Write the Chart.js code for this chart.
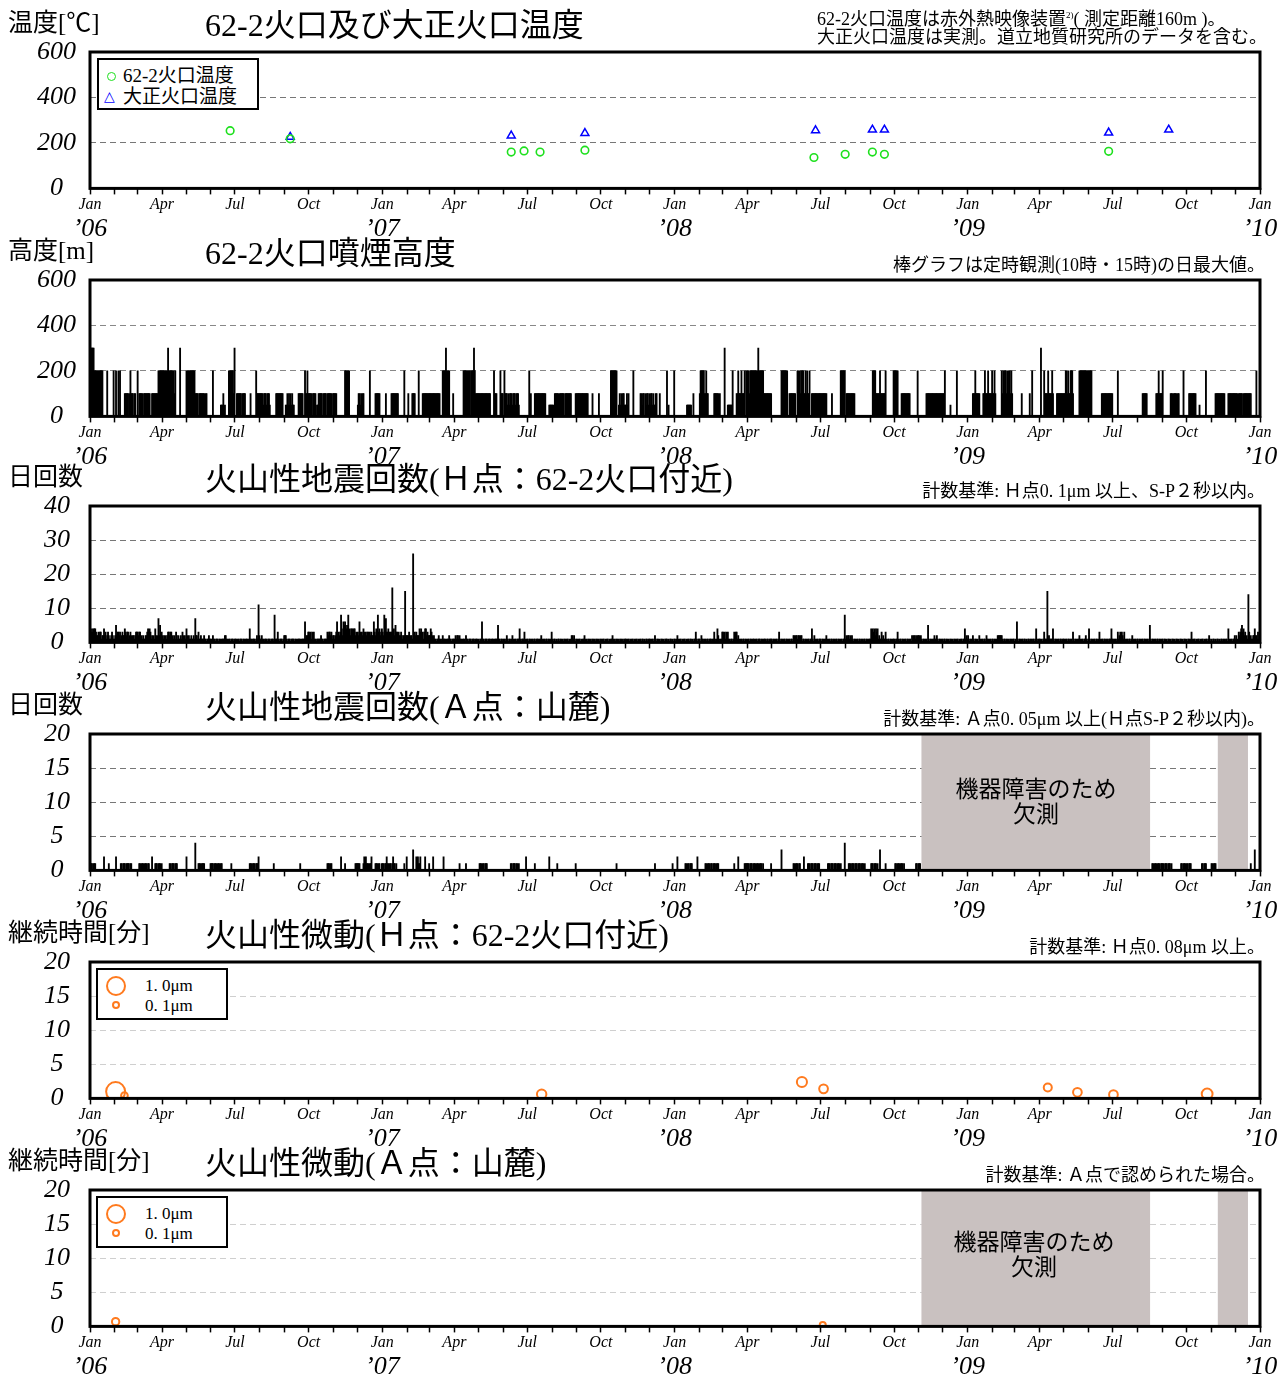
<!DOCTYPE html>
<html lang="ja">
<head>
<meta charset="utf-8">
<title>62-2火口 観測データ</title>
<script src="https://cdn.jsdelivr.net/npm/chart.js@4.4.1/dist/chart.umd.min.js"></script>
<style>
  body { margin: 0; background: #fff; }
  #page { position: relative; width: 1279px; height: 1376px; overflow: hidden; color: #000;
    font-family: "Liberation Serif", "Noto Sans CJK JP", serif; }
  .panel { position: absolute; left: 0; width: 1279px; height: 242px; }
  .panel canvas { position: absolute; left: 0; top: 0; }
  .ylab { position: absolute; left: 8px; top: 7px; font-size: 25px; line-height: 32px; white-space: nowrap; }
  .title { position: absolute; left: 205px; top: 6px; font-size: 32px; line-height: 38px; white-space: nowrap; }
  .note { position: absolute; right: 14px; top: 27px; font-size: 18px; line-height: 21px; white-space: nowrap; }
  .note sup { font-size: 9px; vertical-align: 7px; }
  .legend { position: absolute; border: 2px solid #000; background: #fff; box-sizing: border-box; }
  .legend .row { position: absolute; white-space: nowrap; }
  .mk { position: absolute; box-sizing: border-box; border-radius: 50%; }
  .tri { position: absolute; color: #0000ff; font-family: "DejaVu Sans", sans-serif; font-size: 14px; line-height: 14px; }
  .gap-text { position: absolute; width: 240px; margin-left: -120px; text-align: center;
    font-family: "Noto Sans CJK JP", sans-serif; font-size: 23px; line-height: 25px; }
</style>
</head>
<body>
<div id="page">
  <div class="panel" style="top:0px">
    <canvas id="c-temp" width="1279" height="242"></canvas>
    <div class="ylab">温度[℃]</div>
    <div class="title">62-2火口及び大正火口温度</div>
    <div class="note" style="left:817px; right:auto; top:5px; font-size:18px">62-2火口温度は赤外熱映像装置<sup>2)</sup>( 測定距離160m )。</div>
    <div class="note" style="left:817px; right:auto; top:27px; font-size:18px">大正火口温度は実測。道立地質研究所のデータを含む。</div>
    <div class="legend" style="left:97px; top:58px; width:162px; height:52px">
      <span class="mk" style="left:8px; top:12px; width:9px; height:9px; border:1.6px solid #1ee01e"></span>
      <div class="row" style="left:24px; top:3px; font-size:19px; line-height:26px">62-2火口温度</div>
      <span class="tri" style="left:5px; top:29px">△</span>
      <div class="row" style="left:24px; top:24px; font-size:19px; line-height:26px">大正火口温度</div>
    </div>
  </div>
  <div class="panel" style="top:228px">
    <canvas id="c-smoke" width="1279" height="242"></canvas>
    <div class="ylab">高度[m]</div>
    <div class="title">62-2火口噴煙高度</div>
    <div class="note">棒グラフは定時観測(10時・15時)の日最大値。</div>
  </div>
  <div class="panel" style="top:454px">
    <canvas id="c-quake-h" width="1279" height="242"></canvas>
    <div class="ylab">日回数</div>
    <div class="title">火山性地震回数(Ｈ点：62-2火口付近)</div>
    <div class="note">計数基準: Ｈ点0. 1μm 以上、S-P２秒以内。</div>
  </div>
  <div class="panel" style="top:682px">
    <canvas id="c-quake-a" width="1279" height="242"></canvas>
    <div class="ylab">日回数</div>
    <div class="title">火山性地震回数(Ａ点：山麓)</div>
    <div class="note">計数基準: Ａ点0. 05μm 以上(Ｈ点S-P２秒以内)。</div>
    <div class="gap-text" style="left:1036px; top:93px">機器障害のため<br>欠測</div>
  </div>
  <div class="panel" style="top:910px">
    <canvas id="c-tremor-h" width="1279" height="242"></canvas>
    <div class="ylab">継続時間[分]</div>
    <div class="title">火山性微動(Ｈ点：62-2火口付近)</div>
    <div class="note">計数基準: Ｈ点0. 08μm 以上。</div>
    <div class="legend" style="left:96px; top:58px; width:132px; height:52px">
      <span class="mk" style="left:8px; top:6px; width:20px; height:20px; border:2px solid #ff7a1e"></span>
      <div class="row" style="left:47px; top:4px; font-size:17px; line-height:24px">1. 0μm</div>
      <span class="mk" style="left:14px; top:31px; width:8px; height:8px; border:2px solid #ff7a1e"></span>
      <div class="row" style="left:47px; top:24px; font-size:17px; line-height:24px">0. 1μm</div>
    </div>
  </div>
  <div class="panel" style="top:1138px">
    <canvas id="c-tremor-a" width="1279" height="242"></canvas>
    <div class="ylab">継続時間[分]</div>
    <div class="title">火山性微動(Ａ点：山麓)</div>
    <div class="note">計数基準: Ａ点で認められた場合。</div>
    <div class="legend" style="left:96px; top:58px; width:132px; height:52px">
      <span class="mk" style="left:8px; top:6px; width:20px; height:20px; border:2px solid #ff7a1e"></span>
      <div class="row" style="left:47px; top:4px; font-size:17px; line-height:24px">1. 0μm</div>
      <span class="mk" style="left:14px; top:31px; width:8px; height:8px; border:2px solid #ff7a1e"></span>
      <div class="row" style="left:47px; top:24px; font-size:17px; line-height:24px">0. 1μm</div>
    </div>
    <div class="gap-text" style="left:1034px; top:90px">機器障害のため<br>欠測</div>
  </div>
</div>

<script>
const SERIF = '"Liberation Serif", "Times New Roman", serif';
const GREEN = '#1ee01e';
const BLUE = '#0000ff';
const ORANGE = '#ff7a1e';
const GAP_FILL = '#c9c1c0';

const FIRST_YEAR = 2006;
const YEARS = 4;
const QUARTER_LABELS = ['Jan', 'Apr', 'Jul', 'Oct'];
const YEAR_LABELS = ['’06', '’07', '’08', '’09', '’10'];

// 62-2 crater / Taisho crater temperature (°C)
const TEMP_622_DATES = ['2006-06-25', '2006-09-08', '2007-06-11', '2007-06-27', '2007-07-17', '2007-09-11',
  '2008-06-23', '2008-08-01', '2008-09-04', '2008-09-19', '2009-06-26'];
const TEMP_622_VALUES = [254, 218, 160, 165, 160, 168, 136, 150, 160, 150, 163];
const TEMP_TAISHO_DATES = ['2006-09-08', '2007-06-11', '2007-09-11', '2008-06-25', '2008-09-04', '2008-09-19',
  '2009-06-26', '2009-09-09'];
const TEMP_TAISHO_VALUES = [226, 232, 243, 255, 258, 258, 245, 258];

// plume height: one string per month, one character per day, base-36 in units of 50 m
const SMOKE_MONTHS = [
  '66666 44444444444 00000 4 0000000 4 0', '0400404000002222202422202200',
  '40 222220222222220022222222 44444', '444 2 44 464 444 42424 00000 6 0000000',
  '44444444444 222202222222022 00000', '00 4 000000000 111201 0000 444444 2 6',
  '00 22222202222 0000002000000 4 2222', '2222122212221 0000000 222222222 00',
  '0 11212121211 00000 222222 00 4 22 4 2', '2222022220112222202222022222202',
  '2222 0000000000 444444 0000000000', '12212122 0000000 4 000000 222222 000',
  '0000 2 000000 222222222 0000000 4 000', '0 2 0000 2222 0000 4 0000 222222222',
  '2222222222222 000 44446444 4 0000 2 0', '00000000000 444444444 0 444 6 4 2222',
  '222222222222222 0000 4 2220000 4 222', '0 4 22 2121222122212221 0000000000',
  '00 4 0 2 0000 22222222222222 0000 1111', '11 0 222220222222022222222 00000 22',
  '22222222222222 00000 2 0000000 2 00', '000000000000 44444444 00 121212211',
  '1212 00000 4 00000000 221220212212', '122121122 000 2 00000000 4 0 1 000000 4',
  '000000000000000 111111 00 2 0000000', '24444422422 0000000 222222 0 2 000',
  '00 6 000 111111 4 0000 22422242224 0 44', '4424444444444 6 444444 2222222222',
  '000000000000 44444444 00 22222222 0', '0 4424244422424224 00 22222222222',
  '22222222 000000 2 0000000000 444444', '0 22222222222 0000000000000000000',
  '000 44442222242222224 000000000 4', '44444 0000 22222222222 000000000 4 0',
  '000000000 222222222222222222222', '22 4 000000 1 0000000 4 0000000000000',
  '000000 222422222 0000 224222422224', '2242 0000000 42424424244242 000',
  '00000000 2 000000000 2 00 4 000000000', '0 6 000 422224222242 0000 222222222',
  '224424224442 0000000 444444444444', '4444 000000000000 22222222222222',
  '000000 4 000000000000000000000000', '000000 222222 00000000000 22242222',
  '4 000000000 22212222122 00000 4 000', '000 222222222 0000 1 0000000 4 000000',
  '00000 222222222222 0000 222222222', '22202222202222222222 000000 4 0000'
];

// volcanic earthquakes per day at station H: one string per month, base-36 counts
const QUAKE_H_MONTHS = [
  '13 434443 22 323312 2 4 2312 3 21123211',
  '2 5 2 3 3 2 3 1 2 3 2 2 4 3 2 3 3 1 2 3 2 1 2 2 1 2 3 3',
  '3 2 3 3 1 2 1 2 1 1 2 2 3 4 3 4 3 1 2 1 2 1 4 2 1 2 7 2 5 2 3',
  '2 1 2 1 2 1 2 3 3 2 3 3 1 2 1 2 1 3 2 1 2 1 1 2 1 3 2 1 2 1',
  '4 2 1 2 1 1 2 1 1 2 1 7 2 2 1 3 1 1 2 1 1 1 2 1 1 0 1 1 2 1 1',
  '1 0 2 1 1 0 1 1 1 0 1 1 0 1 1 1 1 2 2 1 1 0 1 1 0 1 1 1 0 1',
  '1 1 0 1 1 0 1 1 1 0 1 1 0 1 1 1 0 1 4 1 1 0 1 1 1 0 1 2 1 b 2',
  '1 1 2 1 1 0 1 1 1 0 1 1 1 0 1 1 1 0 8 1 1 1 3 1 0 1 1 1 0 1 2',
  '2 2 1 0 1 1 1 0 1 1 1 1 0 1 1 0 1 1 1 1 0 1 1 1 1 6 1 2 2 3',
  '3 2 3 1 3 2 3 1 1 0 1 1 1 1 1 2 1 1 0 1 1 1 1 3 2 3 3 2 3 1 2',
  '2 1 2 3 6 2 3 2 3 8 4 2 6 5 6 5 4 5 8 3 4 2 4 4 3 4 4 2 3 2',
  '3 2 6 3 2 3 2 4 3 2 3 2 3 3 2 3 2 3 2 2 6 3 2 4 3 8 3 4 2 3 4',
  '3 2 8 3 7 3 3 4 3 2 3 3 g 3 4 2 5 3 3 2 3 2 2 3 2 1 2 2 f 2 2',
  '2 2 3 1 2 2 1 q 2 3 2 3 2 2 2 4 3 4 2 3 1 3 4 4 2 3 2 2',
  '2 4 3 2 1 2 1 1 0 1 1 2 1 1 0 1 2 1 1 1 0 1 1 1 2 1 1 0 1 1 1',
  '1 2 1 2 2 1 2 1 1 0 1 1 1 0 2 1 1 0 1 1 1 0 1 1 1 0 1 1 1 0',
  '1 0 1 1 6 1 1 0 1 1 1 0 1 1 1 0 1 1 1 0 1 1 1 1 5 1 1 0 1 1 0',
  '1 1 0 1 2 1 0 1 1 0 1 2 1 0 1 1 0 1 1 1 4 1 0 1 1 1 3 1 0 1',
  '1 0 1 1 0 1 1 0 1 1 0 1 1 1 0 1 1 2 1 0 1 1 0 1 1 0 1 1 0 1 3',
  '1 0 1 1 0 1 0 1 1 0 1 1 0 1 0 1 1 0 1 1 0 1 0 1 2 2 1 2 1 0 1',
  '1 0 1 1 0 1 0 1 1 2 1 0 1 0 1 1 0 1 0 1 1 0 1 0 1 1 0 1 0 1',
  '1 0 1 1 0 1 0 1 1 0 1 0 1 1 2 1 0 1 0 1 1 0 1 0 1 1 0 1 0 1 1',
  '1 0 1 1 0 1 0 1 1 0 1 0 1 1 0 1 0 1 1 0 1 1 0 1 0 1 1 0 1 1',
  '1 0 1 1 0 1 2 1 0 1 1 0 1 0 1 1 0 1 0 1 1 1 0 1 0 1 1 0 1 0 1',
  '1 0 1 2 1 0 1 1 0 1 0 1 1 0 1 0 1 1 0 1 1 0 1 0 1 1 3 1 0 1 1',
  '1 0 2 1 1 0 1 1 0 1 1 0 1 1 1 0 1 1 3 1 0 1 4 2 1 0 1 1 3',
  '3 2 3 1 3 2 3 1 1 0 1 1 0 1 3 2 3 3 1 2 1 0 1 1 0 1 1 0 1 1 0',
  '1 1 0 1 1 0 1 1 1 0 1 1 0 1 1 1 0 1 1 0 1 1 1 0 1 1 0 1 1 1',
  '1 0 1 1 0 1 1 0 1 3 1 0 1 1 0 1 1 0 1 1 0 1 1 0 1 1 0 2 2 1 2',
  '2 1 2 2 1 2 2 0 1 1 0 1 1 0 1 1 0 1 1 4 1 0 2 1 0 1 1 0 1 1',
  '1 0 1 1 0 1 1 2 1 0 1 1 0 1 1 0 1 1 0 1 1 0 1 1 0 1 1 0 1 1 8',
  '1 2 1 2 2 1 2 1 2 1 0 1 1 0 1 1 0 1 1 0 1 1 0 1 1 0 1 1 0 1 1',
  '1 4 2 4 3 4 2 4 3 4 1 2 1 1 3 1 2 1 1 3 1 0 1 1 0 1 1 0 1 1',
  '1 0 1 1 3 1 0 1 1 0 1 1 0 1 1 0 1 1 0 1 1 0 2 1 2 2 1 2 1 2 2',
  '2 1 2 1 0 1 1 0 1 1 0 5 1 0 1 1 0 1 1 2 1 1 2 1 0 1 1 0 1 1',
  '0 1 1 0 1 1 0 1 0 1 1 0 1 0 1 1 0 1 1 0 1 0 1 1 0 1 1 4 1 2 1',
  '2 1 0 1 1 0 2 1 0 1 1 0 1 0 2 1 0 1 1 0 1 1 0 2 1 1 0 1 1 0 1',
  '1 0 1 1 0 1 2 2 2 2 2 2 1 0 1 1 0 1 1 0 1 0 1 1 0 1 1 0',
  '1 0 6 1 0 1 1 0 1 1 0 1 1 0 1 0 1 1 0 1 1 0 1 1 0 1 4 1 0 1 1',
  '1 0 1 0 1 3 1 1 1 f 1 2 1 1 1 1 4 1 0 1 1 0 1 1 0 1 1 0 1 1',
  '1 0 1 1 0 1 1 0 1 1 0 3 1 0 1 1 0 1 1 2 1 0 1 1 0 1 1 2 1 0 1',
  '4 1 0 1 1 0 1 1 0 1 1 0 1 3 1 0 1 1 0 1 1 0 1 1 0 1 1 1 4 1',
  '1 0 1 1 0 1 3 1 2 3 1 3 2 1 3 1 0 1 1 0 1 1 0 1 2 1 0 1 1 0 1',
  '1 0 1 1 0 1 1 0 1 1 0 1 1 0 1 5 1 0 1 1 0 1 1 0 1 1 0 1 1 0 1',
  '1 0 1 1 0 1 0 1 1 0 1 0 1 1 0 1 0 1 1 0 1 0 1 1 0 1 0 1 1 0',
  '1 0 1 1 0 1 3 1 0 1 1 0 1 0 1 1 0 1 0 1 1 0 1 0 1 1 0 1 2 1 0',
  '1 0 1 1 0 1 0 1 1 0 1 0 1 1 0 1 1 0 1 1 0 4 1 0 1 1 0 1 1 2',
  '1 2 1 0 3 2 3 4 5 3 4 2 3 1 2 1 e 3 1 2 1 1 2 2 4 2 2 1 3 1 2'
];

// volcanic earthquakes per day at station A
const QUAKE_A_MONTHS = [
  '0 110111 0000000000 2 00000 1 0000000', '0 2 00000 11011101111011 0000000',
  '00 1101110111011 000 2 000 111011101', '000000000 11011101110 0000000000',
  '2 0000000000 4 000 11101111 0000000 1', '11101110111011 00000000000 1 0000',
  '000000000000000000 11101110111 2 0', '00000000000000000 1 0000000000000',
  '0000000000000000000 1 0000000000', '00000000000000000000000 111011 00',
  '000000000 2 0000 1 000000000000 111', '111 0000 12121110112 0000 111011 00 1',
  '110112110110121101 000000000 1 00 2', '0000000 3 000 212112 00000 2 0000 1',
  '0000 2 000000000000 2 0000000000000', '000000 1 0000000 1 000000000000000',
  '0 11101101110 0000000000000000000', '000000000 11011101101 00000000 2 0',
  '000000000 1 00000000000000000 2 000', '000000 1 0000000000000000000000 1 0',
  '0', '0000000000000000000 1 00000000000',
  '0', '000000 1 000000000000000000000 1 00',
  '000 2 000000000 110110111 000000 2 00', '0000000 11011101101110111 00000',
  '00000000000000 1 0000 2 0000000 1111', '11011101110111011101 000000000 1',
  '000000000000 3 00000000000000 1101', '11011 0000 2 0000 1110111011101110',
  '000000000 11101110111011101 0000 4', '0000 111011101110111011101 000000',
  '0 111011101 00 3 000000 1 0000000000', '0 110111011101 00000000000000 1101',
  '11', '0',
  '0', '0', '0', '0', '0', '0', '0',
  '000000000000000000 1101110111011', '110111011101 00000000000 1101110',
  '1101110 000000000000 110111 000000', '110111', '0000000000000000000 1 0000 3 000000'
];

// periods with no data at station A (equipment failure)
const OUTAGE_FROM = ['2008-11-04', '2009-11-09'];
const OUTAGE_TO = ['2009-08-17', '2009-12-17'];

// volcanic tremor: duration (minutes) and amplitude (μm)
const TREMOR_H_DATES = ['2006-02-02', '2006-02-13', '2007-07-19', '2008-06-08', '2008-07-05',
  '2009-04-11', '2009-05-18', '2009-07-02', '2009-10-27'];
const TREMOR_H_MINUTES = [1.0, 0.4, 0.6, 2.4, 1.4, 1.6, 0.9, 0.55, 0.65];
const TREMOR_H_AMP = [1.0, 0.1, 0.3, 0.35, 0.25, 0.2, 0.25, 0.25, 0.4];
const TREMOR_A_DATES = ['2006-02-02', '2008-07-04'];
const TREMOR_A_MINUTES = [0.7, 0.2];
const TREMOR_A_AMP = [0.15, 0.05];

const START = Date.UTC(FIRST_YEAR, 0, 1);
const DAY_MS = 86400000;
function dayOf(str) {
  const [y, m, d] = str.split('-').map(Number);
  return (Date.UTC(y, m - 1, d) - START) / DAY_MS;
}

const MONTH_TICKS = [];
for (let i = 0; i <= YEARS * 12; i++) {
  MONTH_TICKS.push((Date.UTC(FIRST_YEAR, i, 1) - START) / DAY_MS);
}
const YEAR_TICKS = MONTH_TICKS.filter((_, i) => i % 12 === 0);
const X_MAX = MONTH_TICKS[MONTH_TICKS.length - 1];

function expandMonths(months, unit) {
  const out = [];
  months.forEach((raw, i) => {
    const start = MONTH_TICKS[i];
    const len = MONTH_TICKS[i + 1] - start;
    const s = raw.replace(/\s+/g, '');
    for (let j = 0; j < len; j++) {
      const v = parseInt(s[j] || '0', 36) * unit;
      if (v > 0) out.push({ x: start + j + 0.5, y: v });
    }
  });
  return out;
}

function points(dates, values) {
  return dates.map((d, i) => ({ x: dayOf(d), y: values[i] }));
}

function ampRadius(amp) {
  return 3 + 6.5 * Math.max(0, amp - 0.05) / 0.95;
}

function outageSets(yMax) {
  return OUTAGE_FROM.map((from, i) => ({
    type: 'line',
    data: [{ x: dayOf(from), y: yMax }, { x: dayOf(OUTAGE_TO[i]), y: yMax }],
    fill: 'origin',
    backgroundColor: GAP_FILL,
    borderWidth: 0,
    pointRadius: 0,
    order: 5
  }));
}

const framePlugin = {
  id: 'frame',
  afterDraw(chart) {
    const { ctx, chartArea: { left, top, right, bottom } } = chart;
    ctx.save();
    ctx.lineWidth = 3;
    ctx.strokeStyle = '#000';
    ctx.strokeRect(left, top, right - left, bottom - top);
    ctx.restore();
  }
};

function buildOptions({ yMax, yStep, yPad, gridColor }) {
  return {
    responsive: false,
    animation: false,
    devicePixelRatio: 1,
    layout: { padding: { top: 52, right: 19, bottom: 0, left: 0 } },
    plugins: { legend: { display: false }, tooltip: { enabled: false } },
    scales: {
      x: {
        type: 'linear',
        min: 0,
        max: X_MAX,
        offset: false,
        afterBuildTicks: (scale) => { scale.ticks = MONTH_TICKS.map((value) => ({ value })); },
        ticks: {
          autoSkip: false,
          maxRotation: 0,
          padding: 2,
          color: '#000',
          font: { family: SERIF, style: 'italic', size: 16, lineHeight: 1.1 },
          callback: (value, index) => (index % 3 === 0 ? QUARTER_LABELS[(index / 3) % 4] : '')
        },
        grid: { drawOnChartArea: false, offset: false, tickLength: 6, tickColor: '#000', tickWidth: 1.5 },
        border: { display: false }
      },
      year: {
        type: 'linear',
        axis: 'x',
        position: 'bottom',
        weight: 1,
        min: 0,
        max: X_MAX,
        offset: false,
        afterBuildTicks: (scale) => { scale.ticks = YEAR_TICKS.map((value) => ({ value })); },
        ticks: {
          autoSkip: false,
          maxRotation: 0,
          padding: 0,
          color: '#000',
          font: { family: SERIF, style: 'italic', size: 26, lineHeight: 1.0 },
          callback: (value, index) => YEAR_LABELS[index]
        },
        grid: { display: false, drawTicks: false },
        border: { display: false }
      },
      y: {
        min: 0,
        max: yMax,
        afterFit: (scale) => { scale.width = 90; },
        ticks: {
          stepSize: yStep,
          autoSkip: false,
          padding: yPad,
          crossAlign: 'center',
          color: '#000',
          font: { family: SERIF, style: 'italic', size: 26 }
        },
        grid: {
          drawTicks: false,
          lineWidth: 1,
          color: (ctx) => (ctx.tick && (ctx.tick.value === 0 || ctx.tick.value === yMax) ? 'rgba(0,0,0,0)' : gridColor)
        },
        border: { display: false, dash: [6, 4] }
      }
    }
  };
}

function barSet(data) {
  return { type: 'bar', data, backgroundColor: '#000', barThickness: 1.2, borderWidth: 0, order: 1 };
}

// panel 1: temperatures
new Chart(document.getElementById('c-temp'), {
  type: 'scatter',
  data: {
    datasets: [
      { label: '62-2火口温度', data: points(TEMP_622_DATES, TEMP_622_VALUES), pointStyle: 'circle',
        pointRadius: 3.8, pointBorderColor: GREEN, pointBackgroundColor: 'rgba(0,0,0,0)', pointBorderWidth: 1.6 },
      { label: '大正火口温度', data: points(TEMP_TAISHO_DATES, TEMP_TAISHO_VALUES), pointStyle: 'triangle',
        pointRadius: 4.6, pointBorderColor: BLUE, pointBackgroundColor: 'rgba(0,0,0,0)', pointBorderWidth: 1.5 }
    ]
  },
  options: buildOptions({ yMax: 600, yStep: 200, yPad: 14, gridColor: '#777' }),
  plugins: [framePlugin]
});

// panel 2: plume height
new Chart(document.getElementById('c-smoke'), {
  type: 'bar',
  data: { datasets: [barSet(expandMonths(SMOKE_MONTHS, 50))] },
  options: buildOptions({ yMax: 600, yStep: 200, yPad: 14, gridColor: '#888' }),
  plugins: [framePlugin]
});

// panel 3: earthquakes at H
new Chart(document.getElementById('c-quake-h'), {
  type: 'bar',
  data: { datasets: [barSet(expandMonths(QUAKE_H_MONTHS, 1))] },
  options: buildOptions({ yMax: 40, yStep: 10, yPad: 20, gridColor: '#777' }),
  plugins: [framePlugin]
});

// panel 4: earthquakes at A
new Chart(document.getElementById('c-quake-a'), {
  type: 'bar',
  data: { datasets: [barSet(expandMonths(QUAKE_A_MONTHS, 1)), ...outageSets(20)] },
  options: buildOptions({ yMax: 20, yStep: 5, yPad: 20, gridColor: '#777' }),
  plugins: [framePlugin]
});

function tremorSet(dates, minutes, amps) {
  return {
    data: points(dates, minutes),
    pointStyle: 'circle',
    pointRadius: amps.map(ampRadius),
    pointBorderColor: ORANGE,
    pointBackgroundColor: 'rgba(0,0,0,0)',
    pointBorderWidth: 2,
    order: 1
  };
}

// panel 5: tremor at H
new Chart(document.getElementById('c-tremor-h'), {
  type: 'scatter',
  data: { datasets: [tremorSet(TREMOR_H_DATES, TREMOR_H_MINUTES, TREMOR_H_AMP)] },
  options: buildOptions({ yMax: 20, yStep: 5, yPad: 20, gridColor: '#cfcfcf' }),
  plugins: [framePlugin]
});

// panel 6: tremor at A
new Chart(document.getElementById('c-tremor-a'), {
  type: 'scatter',
  data: { datasets: [tremorSet(TREMOR_A_DATES, TREMOR_A_MINUTES, TREMOR_A_AMP), ...outageSets(20)] },
  options: buildOptions({ yMax: 20, yStep: 5, yPad: 20, gridColor: '#cfcfcf' }),
  plugins: [framePlugin]
});
</script>
</body>
</html>
